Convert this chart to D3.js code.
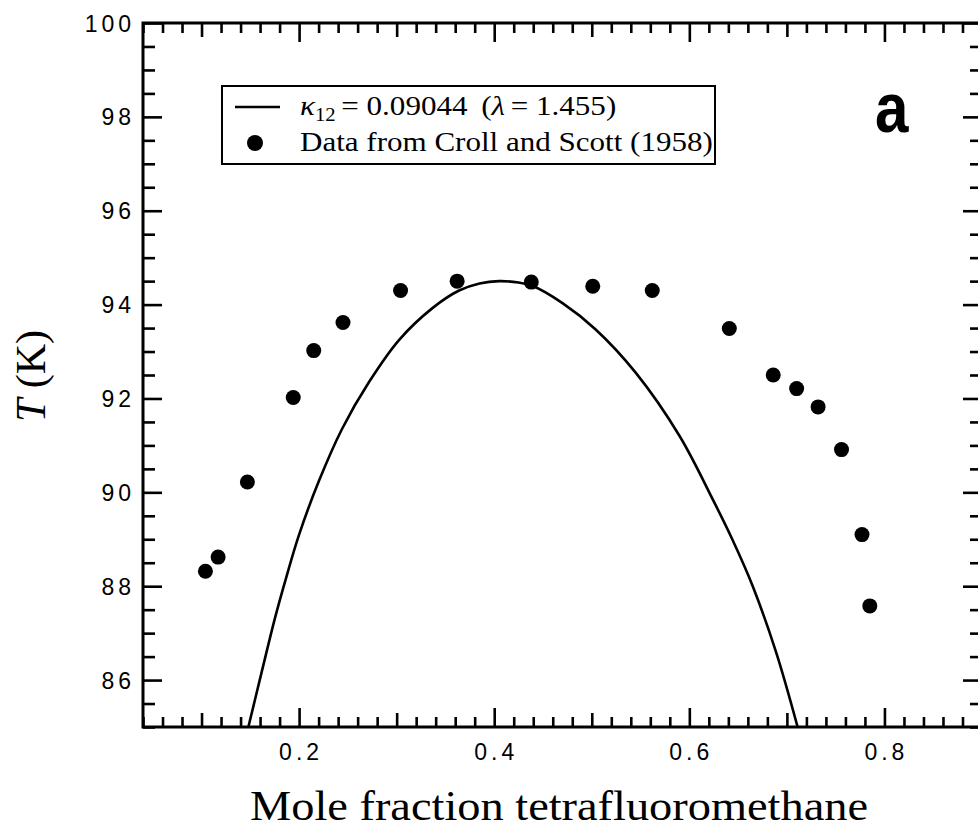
<!DOCTYPE html>
<html>
<head>
<meta charset="utf-8">
<script src="https://cdn.jsdelivr.net/npm/d3@7/dist/d3.min.js"></script>
<style>
  html, body { margin: 0; padding: 0; background: #fff; }
  svg { display: block; }
</style>
</head>
<body>
<script>
// ---- data ----
const dataX = [0.104, 0.117, 0.147, 0.194, 0.215, 0.245, 0.304, 0.362, 0.438, 0.501, 0.562, 0.641, 0.686, 0.710, 0.732, 0.756, 0.777, 0.785];
const dataT = [88.32, 88.62, 90.22, 92.02, 93.02, 93.62, 94.30, 94.50, 94.48, 94.39, 94.30, 93.49, 92.50, 92.21, 91.82, 90.91, 89.10, 87.58];

const curveX = [0.148, 0.162, 0.175, 0.187, 0.200, 0.2205, 0.244, 0.272, 0.3026, 0.337, 0.364, 0.385, 0.405, 0.425, 0.439, 0.470, 0.504, 0.545, 0.590, 0.624, 0.644, 0.665, 0.689, 0.711];
const curveT = [85.0, 86.2, 87.3, 88.2, 89.1, 90.25, 91.35, 92.36, 93.25, 93.93, 94.30, 94.45, 94.50, 94.47, 94.40, 94.03, 93.47, 92.55, 91.20, 89.85, 89.0, 88.0, 86.59, 85.0];

const xTickLabels = [0.2, 0.4, 0.6, 0.8];
const yTickLabels = [86, 88, 90, 92, 94, 96, 98, 100];

const legendLineLabel = "= 0.09044";
const legendLambda = "= 1.455)";
const legendDotLabel = "Data from Croll and Scott (1958)";
const xTitle = "Mole fraction tetrafluoromethane";
const panelLabel = "a";

// ---- layout ----
const W = 978, H = 830;
const x = d3.scaleLinear().domain([0.04, 0.9]).range([143, 982]);
const y = d3.scaleLinear().domain([85, 100]).range([727, 23]);

const svg = d3.select("body").append("svg").attr("width", W).attr("height", H);

const sans = "'Liberation Sans', Arial, Helvetica, sans-serif";
const serif = "'Liberation Serif', 'Times New Roman', serif";

// ticks
const r2 = v => Math.round(v * 1000) / 1000;
const xMinor = d3.range(2, 46).map(i => r2(i * 0.02)).filter(v => Math.abs(v * 10 - Math.round(v * 10)) > 1e-6);
const xMedium = [0.1, 0.3, 0.5, 0.7, 0.9];
const xMajor = xTickLabels;
const yMinor = d3.range(85, 100.01, 0.5).filter(v => !(v % 2 === 0));
const yMajor = yTickLabels;

function tickGroup(axisFn, scale, vals, size, transform) {
  const g = svg.append("g").attr("transform", transform)
    .call(axisFn(scale).tickValues(vals).tickSize(size).tickFormat(""));
  g.select(".domain").remove();
  g.selectAll(".tick line").attr("stroke", "#000").attr("stroke-width", 2.6);
  return g;
}
const yb = y(85), yt = y(100), xl = x(0.04), xr = x(0.9);
// bottom (inward = up)
tickGroup(d3.axisBottom, x, xMinor, -10, `translate(0,${yb})`);
tickGroup(d3.axisBottom, x, xMedium, -14, `translate(0,${yb})`);
tickGroup(d3.axisBottom, x, xMajor, -19, `translate(0,${yb})`);
// top (inward = down)
tickGroup(d3.axisTop, x, xMinor, -10, `translate(0,${yt})`);
tickGroup(d3.axisTop, x, xMedium, -14, `translate(0,${yt})`);
tickGroup(d3.axisTop, x, xMajor, -19, `translate(0,${yt})`);
// left (inward = right)
tickGroup(d3.axisLeft, y, yMinor, -12, `translate(${xl},0)`);
tickGroup(d3.axisLeft, y, yMajor, -19, `translate(${xl},0)`);
// right (inward = left)
tickGroup(d3.axisRight, y, yMinor, -12, `translate(${xr},0)`);
tickGroup(d3.axisRight, y, yMajor, -19, `translate(${xr},0)`);

// frame
svg.append("rect").attr("x", xl).attr("y", yt).attr("width", xr - xl).attr("height", yb - yt)
  .attr("fill", "none").attr("stroke", "#000").attr("stroke-width", 3);

// tick labels
const ls = 4;
svg.append("g").selectAll("text").data(xTickLabels).join("text")
  .attr("x", d => x(d) + ls / 2).attr("y", 760)
  .attr("text-anchor", "middle")
  .attr("font-family", sans).attr("font-size", 23).attr("letter-spacing", ls)
  .text(d => d3.format(".1f")(d));
svg.append("g").selectAll("text").data(yTickLabels).join("text")
  .attr("x", 131 + ls).attr("y", d => y(d) + 8.5)
  .attr("text-anchor", "end")
  .attr("font-family", sans).attr("font-size", 23).attr("letter-spacing", ls)
  .text(d => d);

// curve
svg.append("path")
  .datum(curveX.map((v, i) => [v, curveT[i]]))
  .attr("fill", "none").attr("stroke", "#000").attr("stroke-width", 2.6)
  .attr("stroke-linejoin", "round")
  .attr("d", d3.line().x(d => x(d[0])).y(d => y(d[1])).curve(d3.curveCatmullRom.alpha(0.5)));

// points
svg.append("g").selectAll("circle").data(dataX.map((v, i) => [v, dataT[i]])).join("circle")
  .attr("cx", d => x(d[0])).attr("cy", d => y(d[1])).attr("r", 7.5).attr("fill", "#000");

// legend
const lg = svg.append("g");
lg.append("rect").attr("x", 222).attr("y", 86).attr("width", 493).attr("height", 78)
  .attr("fill", "#fff").attr("stroke", "#000").attr("stroke-width", 2);
lg.append("line").attr("x1", 235).attr("x2", 280).attr("y1", 107).attr("y2", 107)
  .attr("stroke", "#000").attr("stroke-width", 2.6);
lg.append("circle").attr("cx", 255).attr("cy", 143).attr("r", 8).attr("fill", "#000");
const stretch = "translate(300,0) scale(1.15,1) translate(-300,0)";
const t1 = lg.append("text").attr("x", 300).attr("y", 115)
  .attr("font-family", serif).attr("font-size", 27).attr("transform", stretch);
t1.append("tspan").attr("font-style", "italic").text("κ");
t1.append("tspan").attr("font-size", 18).attr("dy", 6).text("12");
t1.append("tspan").attr("dy", -6).attr("dx", 5).text(legendLineLabel);
t1.append("tspan").attr("dx", 12).text("(");
t1.append("tspan").attr("font-style", "italic").text("λ");
t1.append("tspan").attr("dx", 5).text(legendLambda);
lg.append("text").attr("x", 300).attr("y", 151)
  .attr("font-family", serif).attr("font-size", 27).attr("transform", stretch)
  .text(legendDotLabel);

// panel label
svg.append("text").attr("x", 875).attr("y", 132)
  .attr("font-family", sans).attr("font-weight", "bold").attr("font-size", 70)
  .attr("transform", "translate(875,0) scale(0.86,1) translate(-875,0)")
  .text(panelLabel);

// axis titles
svg.append("text").attr("x", 250).attr("y", 820)
  .attr("font-family", serif).attr("font-size", 42)
  .attr("textLength", 618).attr("lengthAdjust", "spacingAndGlyphs")
  .text(xTitle);
const yt2 = svg.append("text").attr("transform", "translate(45,376) rotate(-90)")
  .attr("text-anchor", "middle").attr("font-family", serif).attr("font-size", 42);
yt2.append("tspan").attr("font-style", "italic").text("T");
yt2.append("tspan").text(" (K)");
</script>
</body>
</html>
